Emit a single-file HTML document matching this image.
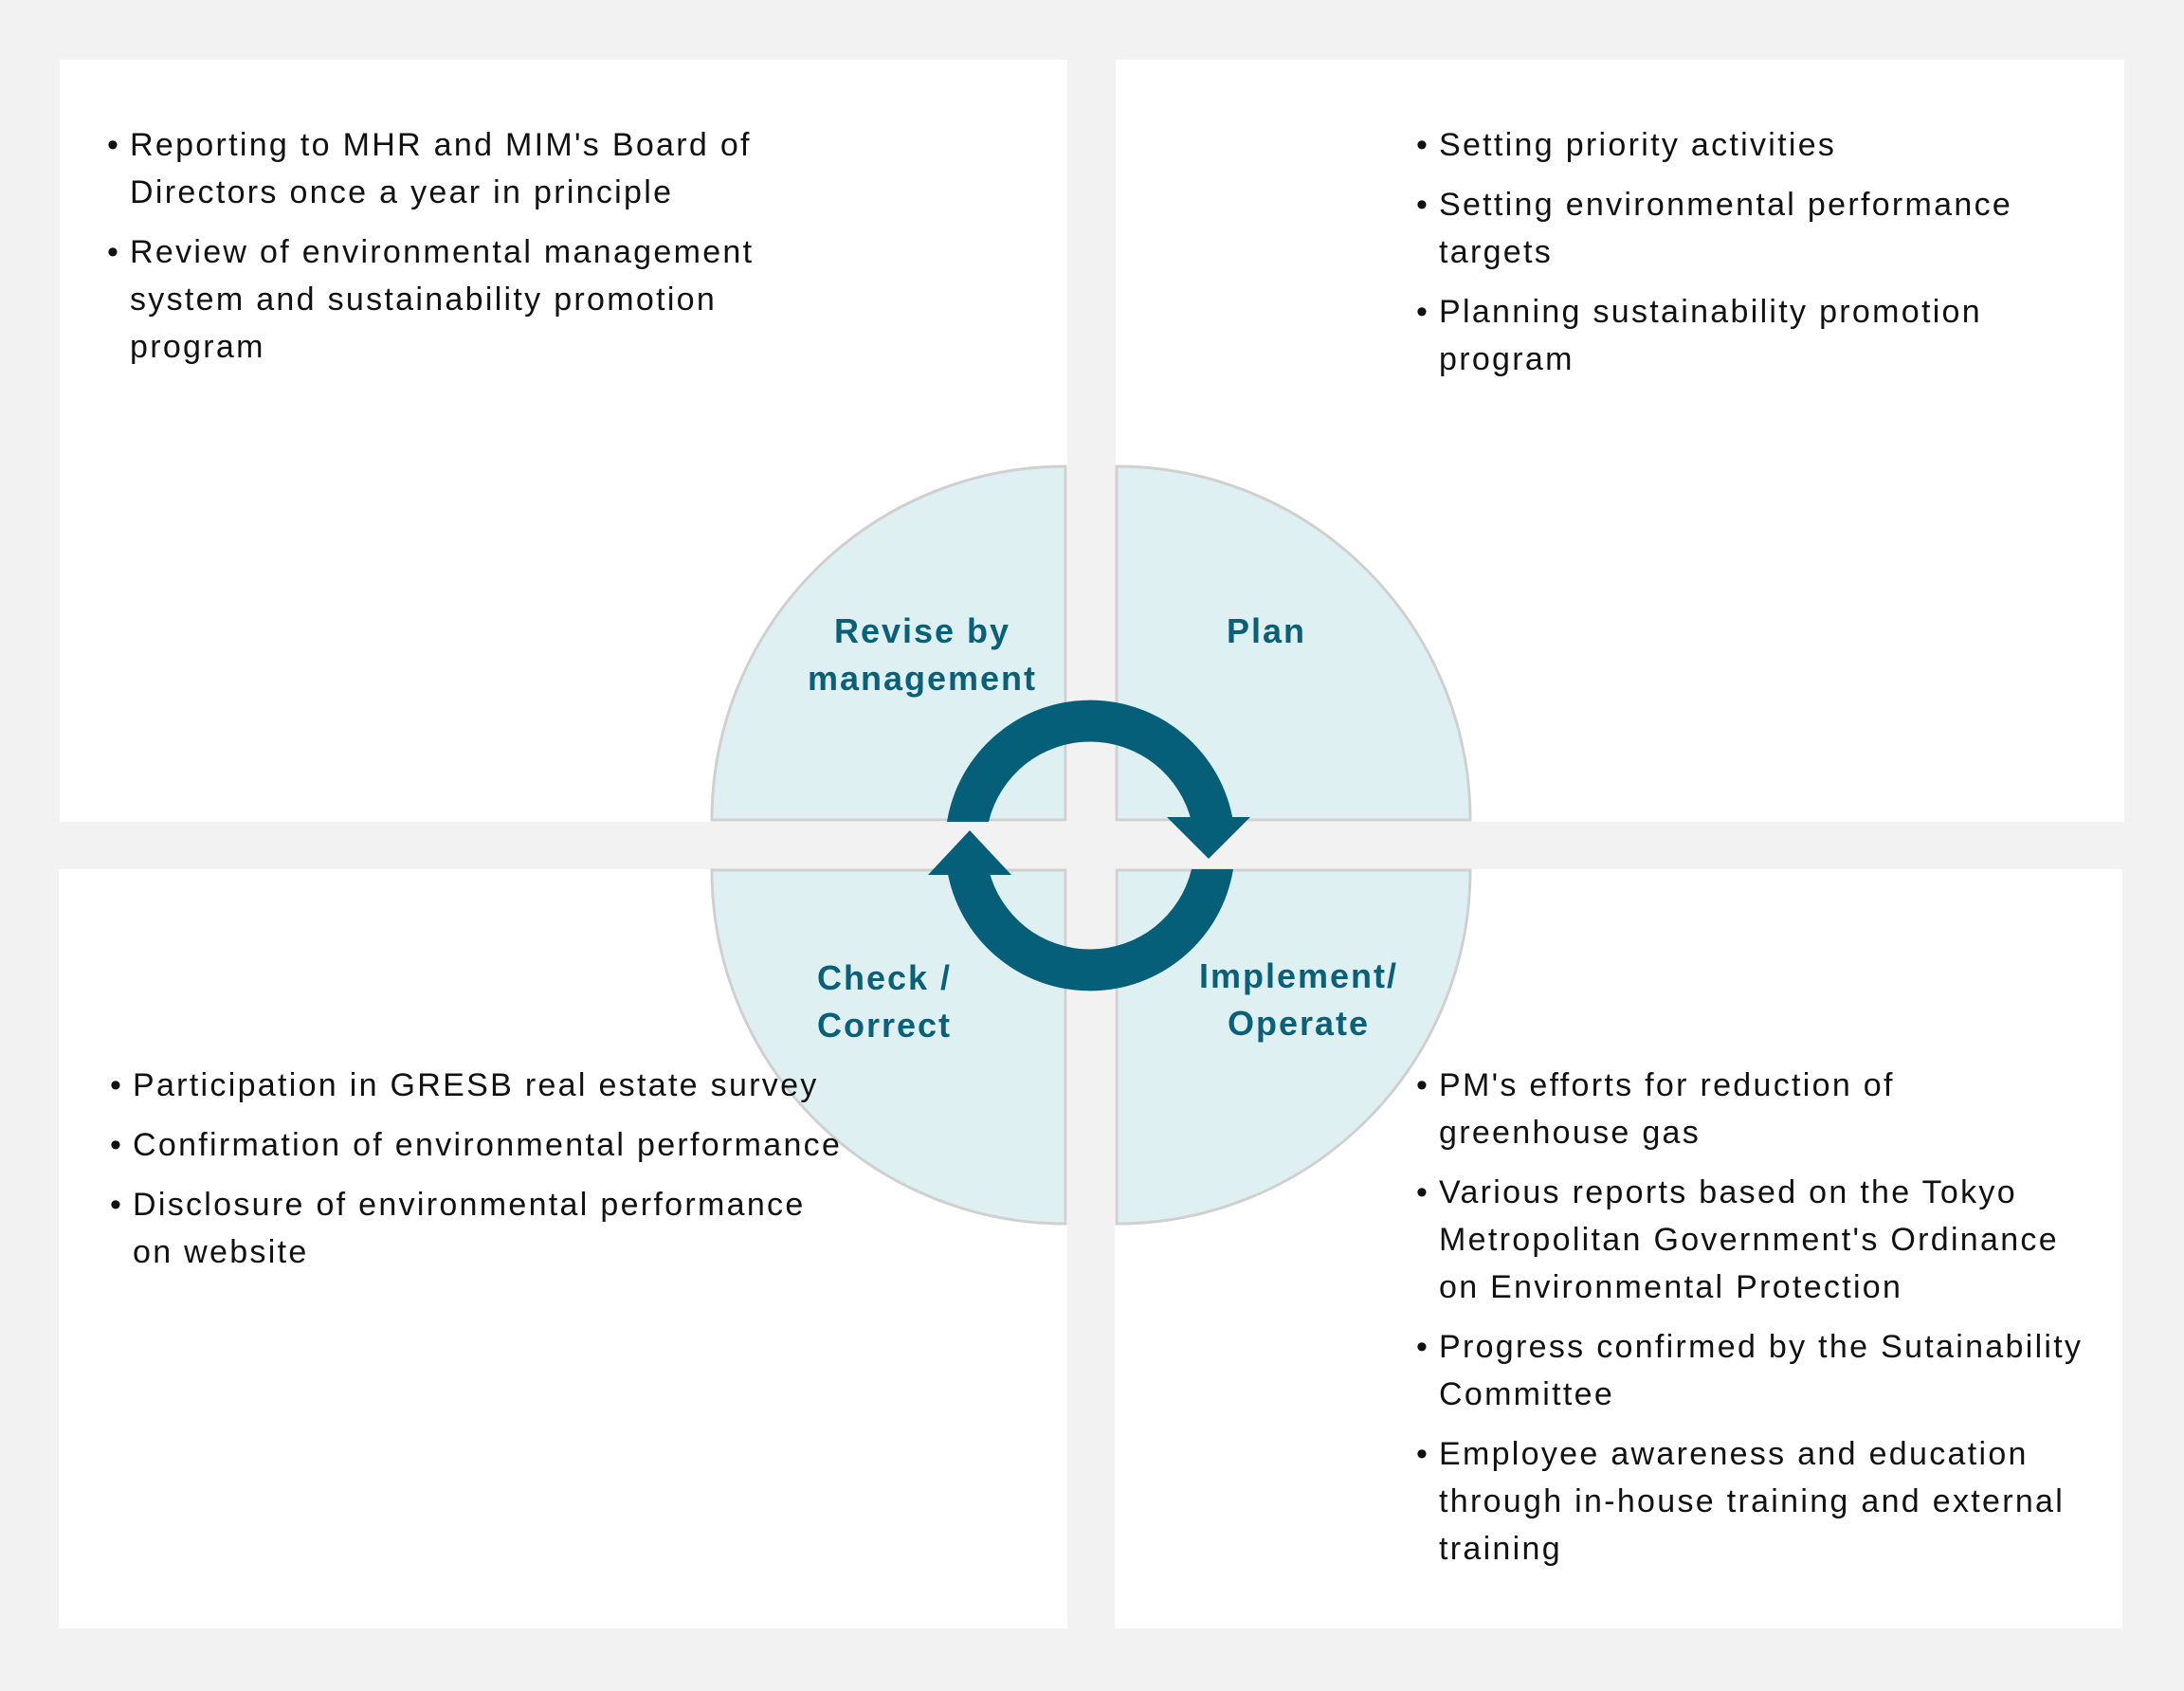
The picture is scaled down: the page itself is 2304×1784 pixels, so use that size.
<!DOCTYPE html>
<html><head><meta charset="utf-8"><style>
html,body{margin:0;padding:0}
body{width:2304px;height:1784px;background:#f2f2f2;position:relative;overflow:hidden;font-family:"Liberation Sans",sans-serif}
.p{position:absolute;background:#fff}
.t{position:absolute;font-size:34px;letter-spacing:2.3px;line-height:50px;color:#111;white-space:nowrap}
.t div{position:relative;margin-bottom:13px}
.t div:before{content:"•";position:absolute;left:-24px}
.l{position:absolute;font-weight:bold;color:#0a6079;font-size:36px;letter-spacing:2px;line-height:50px;text-align:center;white-space:nowrap;transform:translateX(-50%)}
svg{position:absolute;left:0;top:0}
</style></head><body>
<div class="p" style="left:63px;top:63px;width:1063px;height:804px"></div>
<div class="p" style="left:1177px;top:63px;width:1064px;height:804px"></div>
<div class="p" style="left:62px;top:917px;width:1064px;height:801px"></div>
<div class="p" style="left:1176px;top:917px;width:1063px;height:801px"></div>
<svg width="2304" height="1784">
<g fill="#dff0f2" stroke="#d0d0d0" stroke-width="3">
<path d="M1124 865 L751 865 A373 373 0 0 1 1124 492 Z"/>
<path d="M1178 865 L1178 492 A373 373 0 0 1 1551 865 Z"/>
<path d="M1124 918 L1124 1291 A373 373 0 0 1 751 918 Z"/>
<path d="M1178 918 L1551 918 A373 373 0 0 1 1178 1291 Z"/>
</g>
<g fill="#065f78">
<path d="M999 867 A153 153 0 0 1 1301 867 L1257 867 A110 110 0 0 0 1043 867 Z"/>
<path d="M1231 862 L1319 862 L1275 906 Z"/>
<path d="M1301 917 A153 153 0 0 1 999 917 L1043 917 A110 110 0 0 0 1257 917 Z"/>
<path d="M979 923 L1067 923 L1023 876 Z"/>
</g>
</svg>
<div class="l" style="left:973px;top:641px">Revise by<br>management</div>
<div class="l" style="left:1336px;top:641px">Plan</div>
<div class="l" style="left:933px;top:1007px">Check /<br>Correct</div>
<div class="l" style="left:1370px;top:1005px">Implement/<br>Operate</div>
<div class="t" style="left:137px;top:128px">
<div>Reporting to MHR and MIM's Board of<br>Directors once a year in principle</div>
<div>Review of environmental management<br>system and sustainability promotion<br>program</div>
</div>
<div class="t" style="left:1518px;top:128px">
<div>Setting priority activities</div>
<div>Setting environmental performance<br>targets</div>
<div>Planning sustainability promotion<br>program</div>
</div>
<div class="t" style="left:140px;top:1120px">
<div>Participation in GRESB real estate survey</div>
<div>Confirmation of environmental performance</div>
<div>Disclosure of environmental performance<br>on website</div>
</div>
<div class="t" style="left:1518px;top:1120px">
<div>PM's efforts for reduction of<br>greenhouse gas</div>
<div>Various reports based on the Tokyo<br>Metropolitan Government's Ordinance<br>on Environmental Protection</div>
<div>Progress confirmed by the Sutainability<br>Committee</div>
<div>Employee awareness and education<br>through in-house training and external<br>training</div>
</div>
</body></html>
